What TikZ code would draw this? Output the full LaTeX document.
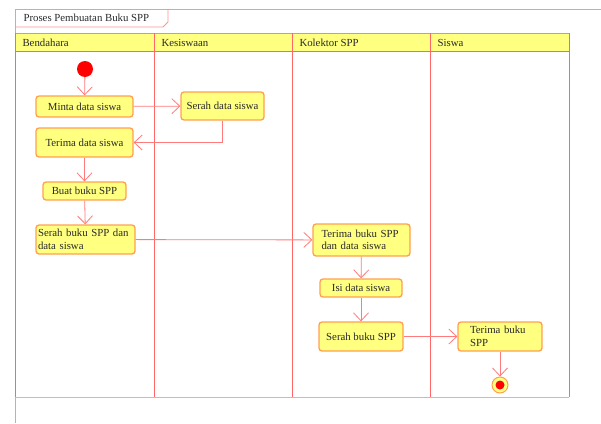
\documentclass[tikz,border=0pt]{standalone}
\usepackage{fontspec}
\setmainfont{Liberation Serif}
\usetikzlibrary{arrows.meta}
\definecolor{lane}{HTML}{FF6666}
\definecolor{flow}{HTML}{FF7A7A}
\definecolor{nfill}{HTML}{FFFF80}
\definecolor{nbord}{HTML}{FFA050}
\definecolor{txt}{HTML}{2A2A2A}
\tikzset{
  act/.style={draw=nbord, fill=nfill, line width=1.3pt, rounded corners=3pt, inner sep=0pt, text=txt, font=\fontsize{10.8}{12.5}\selectfont},
  flowline/.style={draw=flow, line width=0.8pt, -{Straight Barb[length=8pt,width=15pt,line width=0.8pt]}},
  hdr/.style={anchor=west, text=txt, font=\fontsize{10.8}{12.5}\selectfont},
}
\begin{document}
\begin{tikzpicture}[x=1pt,y=-1pt]
\useasboundingbox (0,0) rectangle (601,423);
% outer frame
\draw[lane!70, line width=0.9pt] (15,423) -- (15,9) -- (601,9);
\draw[lane!70, line width=0.9pt] (15,27) -- (163,27) -- (168,22) -- (168,9);
\node[hdr] (title) at (20,18) {Proses Pembuatan Buku SPP};
% lane headers
\fill[nfill] (15,33) rectangle (569,51);
\draw[lane, line width=1pt] (15,51) -- (569,51);
\draw[lane!80, line width=1pt] (15,33) -- (569,33);
\draw[lane!60, line width=1pt] (15,397) -- (569,397);
\foreach \x in {15,154,292,430,569} \draw[lane, line width=1pt] (\x,33) -- (\x,397);
\node[hdr] (h1) at (19,42.5) {Bendahara};
\node[hdr] (h2) at (158,42.5) {Kesiswaan};
\node[hdr] (h3) at (296,42.5) {Kolektor SPP};
\node[hdr] (h4) at (434,42.5) {Siswa};
% nodes
\node[circle, fill=red, inner sep=0pt, minimum size=16pt] (start) at (85,69) {};
\node[act, minimum width=97pt, minimum height=21pt] (minta) at (84.5,106.5) {Minta data siswa};
\node[act, minimum width=83pt, minimum height=28pt] (serah1) at (222.5,106) {Serah data siswa};
\node[act, minimum width=97pt, minimum height=29pt] (terima1) at (84.5,142.5) {Terima data siswa};
\node[act, minimum width=83pt, minimum height=18pt] (buat) at (84.5,191) {Buat buku SPP};
\node[act, minimum width=99pt, minimum height=29pt, align=left, text width=95pt] (serah2) at (85.5,239.5) {Serah buku SPP dan\\data siswa};
\node[act, minimum width=97pt, minimum height=32pt, align=left, text width=80pt] (terima2) at (361.5,240) {Terima buku SPP\\dan data siswa};
\node[act, minimum width=82pt, minimum height=18pt] (isi) at (361,288) {Isi data siswa};
\node[act, minimum width=84pt, minimum height=29pt] (serah3) at (361,336.5) {Serah buku SPP};
\node[act, minimum width=84pt, minimum height=29pt, align=left, text width=60pt] (terima3) at (500,336.5) {Terima buku\\SPP};
\node[circle, draw=nbord, fill=nfill, line width=1pt, inner sep=0pt, minimum size=16pt] (end) at (500,385) {};
\node[circle, fill=red, inner sep=0pt, minimum size=9pt] (endin) at (end) {};
% flows
\draw[flowline] (start) -- (minta);
\draw[flowline] (minta) -- (serah1);
\draw[flowline] (serah1.south) |- (terima1.east);
\draw[flowline] (terima1) -- (buat);
\draw[flowline] (buat) -- (serah2);
\draw[flowline] (serah2) -- (terima2);
\draw[flowline] (terima2) -- (isi);
\draw[flowline] (isi) -- (serah3);
\draw[flowline] (serah3) -- (terima3);
\draw[flowline] (terima3) -- (end);
\end{tikzpicture}
\end{document}
